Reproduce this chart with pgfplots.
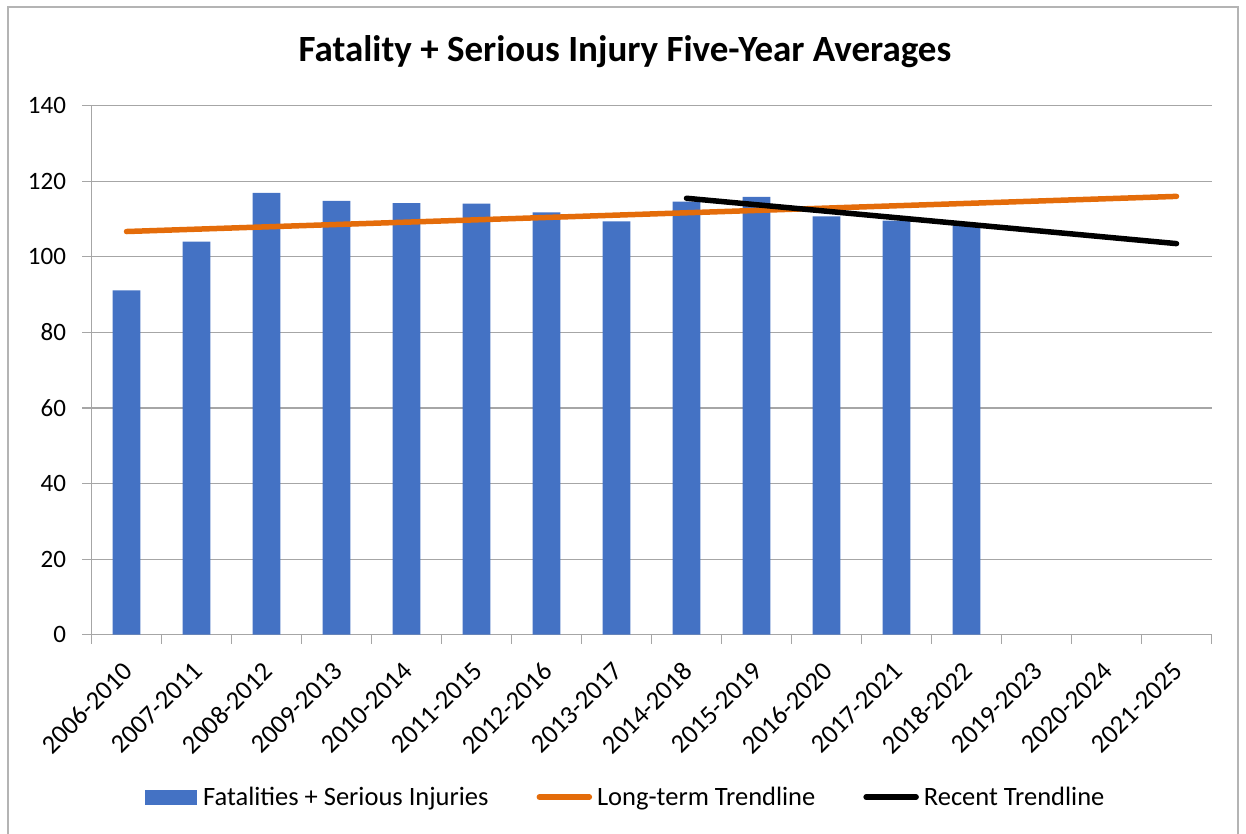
\documentclass[border=0pt]{standalone}
\usepackage{fontspec}
\setmainfont{Carlito}
\usepackage{pgfplots}
\pgfplotsset{compat=1.18}
\definecolor{barblue}{HTML}{4472C4}
\definecolor{trendorange}{HTML}{E46C0A}
\definecolor{gridgray}{HTML}{A6A6A6}
\definecolor{framegray}{HTML}{B4B4B4}
\begin{document}
\begin{tikzpicture}
\useasboundingbox (-91.5pt,-199.3pt) rectangle (1154.5pt,634.7pt);
\draw[framegray, line width=1.5pt] (-83.5pt,-230pt) -- (-83.5pt,627.7pt) -- (1146.5pt,627.7pt) -- (1146.5pt,-230pt);
\begin{axis}[
  at={(0pt,0pt)}, anchor=south west,
  scale only axis, width=1120pt, height=529pt,
  xmin=-0.5, xmax=15.5, ymin=0, ymax=140,
  ytick={0,20,...,140},
  xtick={-0.5,0.5,...,15.5},
  xticklabel=\empty,
  extra x ticks={0,1,...,15},
  extra x tick labels={2006-2010,2007-2011,2008-2012,2009-2013,2010-2014,2011-2015,2012-2016,2013-2017,2014-2018,2015-2019,2016-2020,2017-2021,2018-2022,2019-2023,2020-2024,2021-2025},
  extra x tick style={major tick length=0pt, grid=none},
  ymajorgrids,
  grid style={gridgray, line width=1.2pt},
  axis x line*=bottom, axis y line*=left,
  axis line style={gridgray, line width=1.2pt},
  tick style={gridgray, line width=1.2pt},
  tick align=outside,
  major tick length=9pt,
  /pgf/number format/assume math mode=true,
  yticklabel style={font=\fontsize{25}{30}\selectfont, xshift=-13pt},
  xticklabel style={font=\fontsize{26.5}{31}\selectfont, xshift=-5pt, yshift=-21pt, rotate=45, anchor=north east},
  title={Fatality + Serious Injury Five-Year Averages},
  title style={at={(0.4763,1.090)}, anchor=center, font=\fontsize{37}{42}\selectfont\bfseries},
  legend style={at={(0.477,-0.307)}, anchor=center, draw=none, fill=none,
    font=\fontsize{26.5}{31}\selectfont, legend columns=3,
    /tikz/every even column/.append style={column sep=46pt}},
  legend cell align=left,
]
\addplot[ybar, bar width=27.6pt, fill=barblue, draw=none,
  legend image code/.code={\fill[barblue] (0pt,-7.5pt) rectangle (52pt,7.5pt); \path (56pt,0pt);}]
  coordinates {(0,91.1) (1,104.0) (2,116.9) (3,114.8) (4,114.2) (5,114.1) (6,111.8) (7,109.4) (8,114.6) (9,115.9) (10,110.7) (11,109.6) (12,108.5)};
\addlegendentry{Fatalities + Serious Injuries}
\addplot[trendorange, line width=5.5pt, line cap=round,
  legend image code/.code={\draw[trendorange, line width=5.5pt, line cap=round] (2pt,0pt) -- (52pt,0pt); \path (55pt,0pt);}]
  coordinates {(0,106.7) (15,116.0)};
\addlegendentry{Long-term Trendline}
\addplot[black, line width=5.5pt, line cap=round,
  legend image code/.code={\draw[black, line width=5.5pt, line cap=round] (2pt,0pt) -- (52pt,0pt); \path (55pt,0pt);}]
  coordinates {(8,115.5) (15,103.5)};
\addlegendentry{Recent Trendline}
\end{axis}
\end{tikzpicture}
\end{document}
